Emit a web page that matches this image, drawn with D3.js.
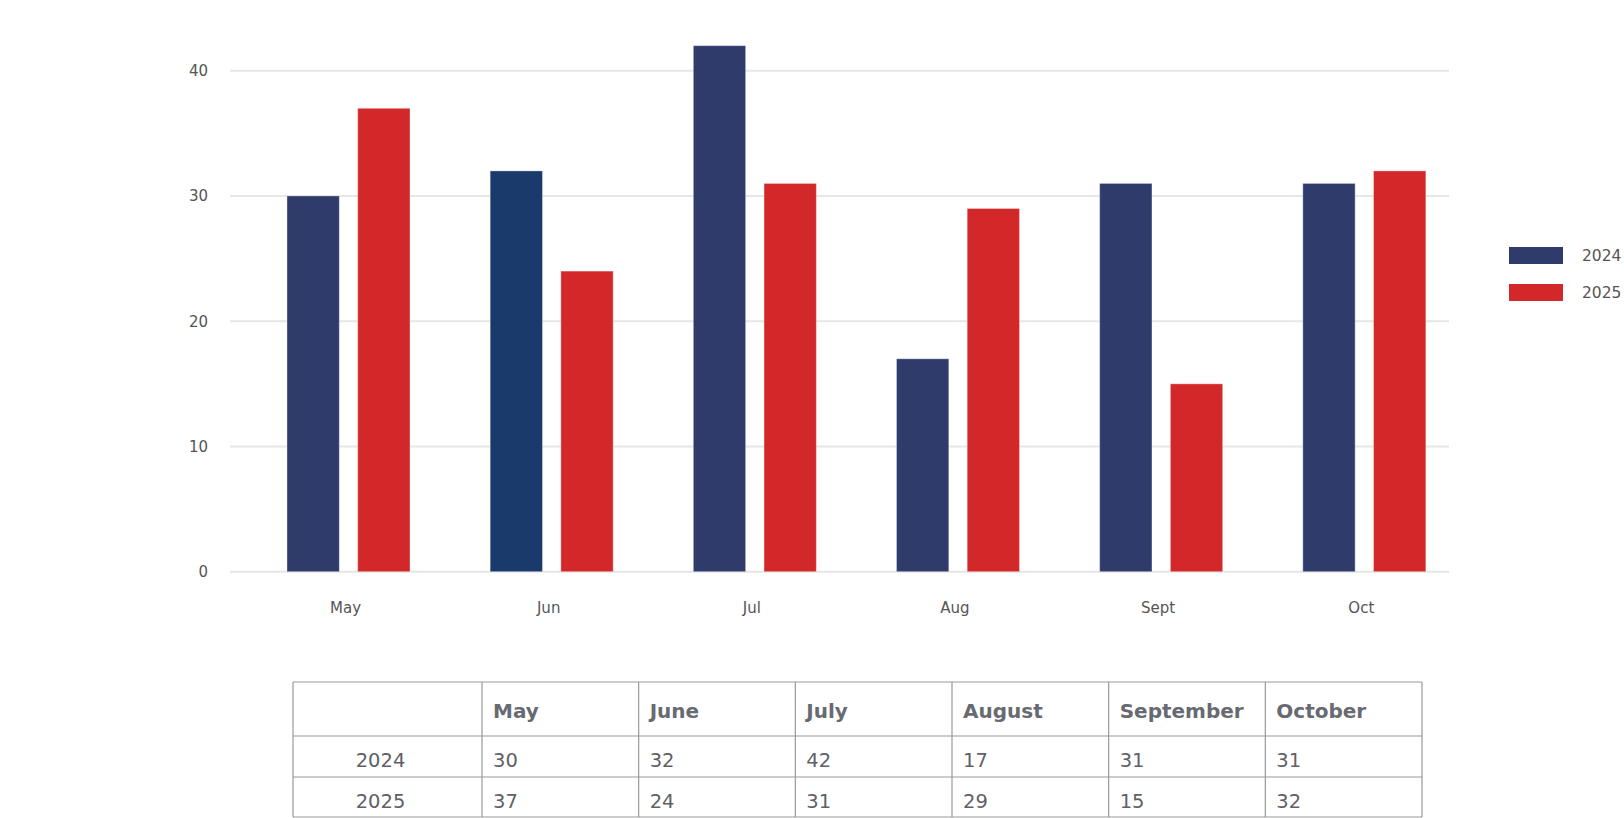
<!DOCTYPE html>
<html>
<head>
<meta charset="utf-8">
<script src="https://cdn.jsdelivr.net/npm/d3@7"></script>
<style>
  html, body { margin: 0; padding: 0; background: #fff; }
  svg { display: block; font-family: "DejaVu Sans", "Open Sans", sans-serif; }
</style>
</head>
<body>
<svg id="chart" width="1624" height="818"></svg>
<script>
// ---- data ----
const months = ["May", "Jun", "Jul", "Aug", "Sept", "Oct"];
const monthsFull = ["May", "June", "July", "August", "September", "October"];
const series = ["2024", "2025"];
const values2024 = [30, 32, 42, 17, 31, 31];
const values2025 = [37, 24, 31, 29, 15, 32];
const yTicks = [0, 10, 20, 30, 40];

const colors = { "2024": "#2f3b6b", "2025": "#d3282a" };
const junColor = "#1a3a6b";

const svg = d3.select("#chart");
const textColor = "#555";

// ---- scales ----
const x0 = d3.scaleBand().domain(months).range([230, 1449]).padding(0);
const bw = x0.bandwidth();
const x1 = d3.scaleBand().domain(series).range([bw * 0.2805, bw * 0.886]).paddingInner(0.26);
const y = d3.scaleLinear().domain([0, 40]).range([571.7, 70.7]);

// ---- grid ----
const grid = svg.append("g");
grid.selectAll("line").data(yTicks).join("line")
  .attr("x1", 230).attr("x2", 1449)
  .attr("y1", d => y(d)).attr("y2", d => y(d))
  .attr("stroke", "#e6e6e6").attr("stroke-width", 2);

// y axis labels via d3 axis
const yAxis = svg.append("g").attr("transform", "translate(230,0)")
  .call(d3.axisLeft(y).tickValues(yTicks).tickSize(0).tickPadding(22));
yAxis.select(".domain").remove();
yAxis.selectAll("text").attr("fill", textColor).style("font-size", "15px")
  .style("font-family", "'DejaVu Sans', sans-serif");

// ---- bars ----
const data = months.map((m, i) => ({ month: m, vals: [
  { s: "2024", v: values2024[i] }, { s: "2025", v: values2025[i] }] }));

const groups = svg.append("g").selectAll("g").data(data).join("g")
  .attr("transform", d => `translate(${x0(d.month)},0)`);
groups.selectAll("rect").data(d => d.vals.map(o => ({ ...o, month: d.month }))).join("rect")
  .attr("x", d => x1(d.s))
  .attr("width", x1.bandwidth())
  .attr("y", d => y(d.v))
  .attr("height", d => y(0) - y(d.v))
  .attr("fill", d => (d.s === "2024" && d.month === "Jun") ? junColor : colors[d.s])
  .attr("stroke", "rgba(255,255,255,0.35)")
  .attr("stroke-width", 1);

// ---- x labels ----
const xAxis = svg.append("g").attr("transform", `translate(0,${y(0)})`)
  .call(d3.axisBottom(x0).tickSize(0).tickPadding(31)
    .tickFormat(d => d));
xAxis.select(".domain").remove();
xAxis.selectAll(".tick").attr("transform", d => `translate(${x0(d) + (x1("2024") + x1("2025") + x1.bandwidth()) / 2 - 3},0)`);
xAxis.selectAll("text").attr("fill", textColor).style("font-size", "15px")
  .style("font-family", "'DejaVu Sans', sans-serif");

// ---- legend ----
const legend = svg.append("g").attr("transform", "translate(1509,247)");
const li = legend.selectAll("g").data(series).join("g")
  .attr("transform", (d, i) => `translate(0,${i * 37})`);
li.append("rect").attr("width", 54).attr("height", 17).attr("fill", d => colors[d]);
li.append("text").attr("x", 73).attr("y", 9).attr("dy", "0.35em")
  .attr("fill", textColor).style("font-size", "15.5px").text(d => d);

// ---- table ----
const tX = 293, tY = 682;
const firstW = 189;
const colW = (1422 - tX - firstW) / monthsFull.length;
const rowYs = [682, 736, 777, 817];
const colXs = [tX, tX + firstW].concat(monthsFull.map((m, i) => tX + firstW + colW * (i + 1)));
const table = svg.append("g");
const lineColor = "#999";
table.selectAll("line.h").data(rowYs).join("line").attr("class", "h")
  .attr("x1", tX).attr("x2", 1422).attr("y1", d => d).attr("y2", d => d)
  .attr("stroke", lineColor).attr("stroke-width", 1.2);
table.selectAll("line.v").data(colXs).join("line").attr("class", "v")
  .attr("x1", d => d).attr("x2", d => d).attr("y1", rowYs[0]).attr("y2", rowYs[3])
  .attr("stroke", lineColor).attr("stroke-width", 1.2);

// header
table.selectAll("text.hd").data(monthsFull).join("text").attr("class", "hd")
  .attr("x", (d, i) => colXs[i + 1] + 11)
  .attr("y", (rowYs[0] + rowYs[1]) / 2 + 2).attr("dy", "0.35em")
  .attr("fill", "#676a70").style("font-size", "20px").style("font-weight", "bold")
  .text(d => d);

const rows = [values2024, values2025];
rows.forEach((vals, r) => {
  const cy = (rowYs[r + 1] + rowYs[r + 2]) / 2 + 4;
  table.append("text").attr("x", tX + firstW / 2 - 7).attr("y", cy).attr("dy", "0.35em")
    .attr("text-anchor", "middle").attr("fill", "#5f6166").style("font-size", "19.5px")
    .text(series[r]);
  table.selectAll(null).data(vals).join("text")
    .attr("x", (d, i) => colXs[i + 1] + 11).attr("y", cy).attr("dy", "0.35em")
    .attr("fill", "#5f6166").style("font-size", "19.5px").text(d => d);
});
</script>
</body>
</html>
